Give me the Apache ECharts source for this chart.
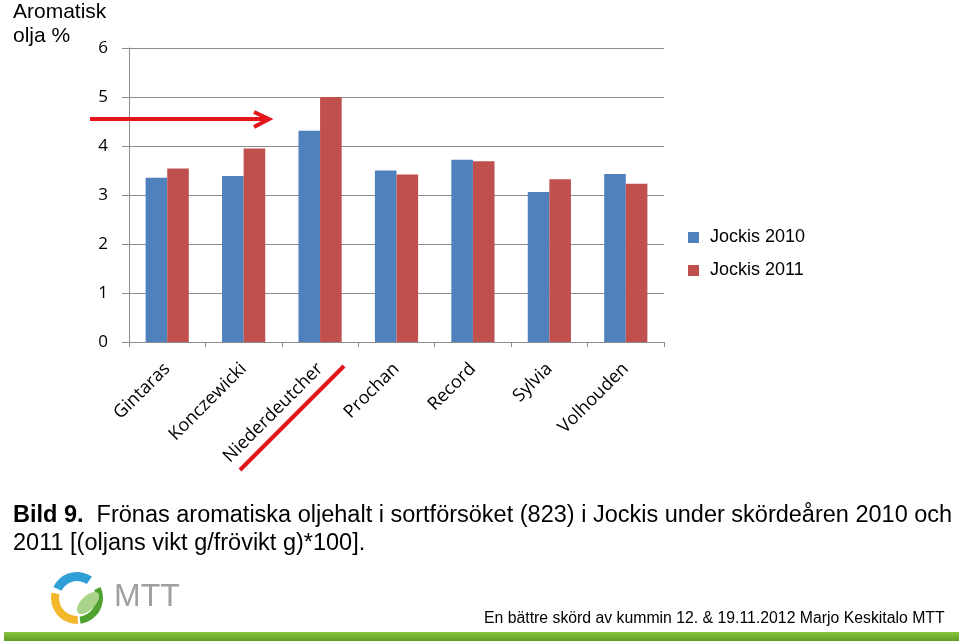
<!DOCTYPE html>
<html><head><meta charset="utf-8">
<script src="https://cdn.jsdelivr.net/npm/echarts@6/dist/echarts.min.js"></script>
<style>html,body{margin:0;padding:0;background:#fff}#c{width:959px;height:642px}</style>
</head><body><div id="c"></div>
<script>
var categories = ['Gintaras','Konczewicki','Niederdeutcher','Prochan','Record','Sylvia','Volhouden'];
var jockis2010 = [3.35, 3.39, 4.31, 3.50, 3.72, 3.06, 3.43];
var jockis2011 = [3.54, 3.95, 5.00, 3.42, 3.69, 3.32, 3.23];
var seriesNames = ['Jockis 2010','Jockis 2011'];
var yTicks = {min:0, max:6, interval:1};

var chart = echarts.init(document.getElementById('c'), null, {renderer:'canvas'});
var AX = '#8c8c8c';
var labelFont = '"Open Sans", sans-serif';
var arial = '"Liberation Sans", Arial, sans-serif';
chart.setOption({
  animation:false,
  backgroundColor:'#fff',
  grid:{left:129, right:295, top:48, bottom:300, containLabel:false},
  legend:{
    orient:'vertical', left:683, top:223, itemWidth:11, itemHeight:11, itemGap:14,
    icon:'rect', data:seriesNames,
    textStyle:{fontFamily:arial, fontSize:18, lineHeight:19, color:'#000', padding:[0,0,0,6]}
  },
  xAxis:{
    type:'category', data:categories,
    axisLine:{lineStyle:{color:AX, width:1}},
    axisTick:{show:true, length:5, alignWithLabel:false, lineStyle:{color:AX}},
    axisLabel:{rotate:45, margin:24, interval:0, color:'#000', fontFamily:labelFont, fontSize:18}
  },
  yAxis:{
    type:'value', min:yTicks.min, max:yTicks.max, interval:yTicks.interval,
    axisLine:{show:true, lineStyle:{color:AX, width:1}},
    axisTick:{show:true, length:7, lineStyle:{color:AX}},
    splitLine:{show:true, lineStyle:{color:AX, width:1}},
    axisLabel:{margin:21, color:'#000', fontFamily:labelFont, fontSize:17}
  },
  series:[
    {name:seriesNames[0], type:'bar', data:jockis2010, itemStyle:{color:'#4f81bd'}, barGap:'0%', barCategoryGap:'43.5%'},
    {name:seriesNames[1], type:'bar', data:jockis2011, itemStyle:{color:'#c0504d'}, barGap:'0%', barCategoryGap:'43.5%'}
  ],
  graphic:[
    {type:'text', left:13, top:0, style:{text:'Aromatisk\nolja %', font:'21px '+arial, fill:'#000', lineHeight:24}},
    // red arrow
    {type:'polyline', shape:{points:[[90,119],[268,119]]}, style:{stroke:'#e3151b', lineWidth:4, fill:null}, z:100},
    {type:'polyline', shape:{points:[[254,112],[269,119],[254,127]]}, style:{stroke:'#e3151b', lineWidth:4, fill:null, lineJoin:'miter'}, z:100},
    // red underline
    {type:'line', shape:{x1:240, y1:470, x2:344, y2:366}, style:{stroke:'#e3151b', lineWidth:4}, z:100},
    // caption
    {type:'text', left:13, top:504, style:{rich:{b:{fontWeight:'bold', fontSize:23.5, fontFamily:arial, fill:'#000', lineHeight:28}, n:{fontSize:23.5, fontFamily:arial, fill:'#000', lineHeight:28}}, text:'{b|Bild 9.}{n|  Frönas aromatiska oljehalt i sortförsöket (823) i Jockis under skördeåren 2010 och}\n{n|2011 [(oljans vikt g/frövikt g)*100].}'}},
    // footer
    {type:'text', left:484, top:611, style:{text:'En bättre skörd av kummin 12. & 19.11.2012 Marjo Keskitalo MTT', font:'15.8px '+arial, fill:'#000'}},
    // green bar
    {type:'rect', shape:{x:4, y:632, width:955, height:9}, style:{fill:new echarts.graphic.LinearGradient(0,0,0,1,[{offset:0,color:'#8cc540'},{offset:1,color:'#5f9e22'}])}},
    // logo
    {type:'sector', shape:{cx:77, cy:598, r0:17, r:26, startAngle:205*Math.PI/180, endAngle:305*Math.PI/180}, style:{fill:'#2f9fd6'}},
    {type:'sector', shape:{cx:77, cy:598, r0:18, r:26, startAngle:88*Math.PI/180, endAngle:192*Math.PI/180}, style:{fill:'#f3b72a'}},
    {type:'sector', shape:{cx:77, cy:598, r0:19, r:26, startAngle:-25*Math.PI/180, endAngle:82*Math.PI/180}, style:{fill:'#4fa22f'}},
    {type:'ellipse', shape:{cx:88, cy:603, rx:14, ry:7}, rotation:Math.PI/4, originX:88, originY:603, style:{fill:'#a9d48a'}},
    {type:'text', left:114, top:581, style:{text:'MTT', font:'32px '+arial, fill:'#a0a0a0'}}
  ]
});
</script></body></html>
